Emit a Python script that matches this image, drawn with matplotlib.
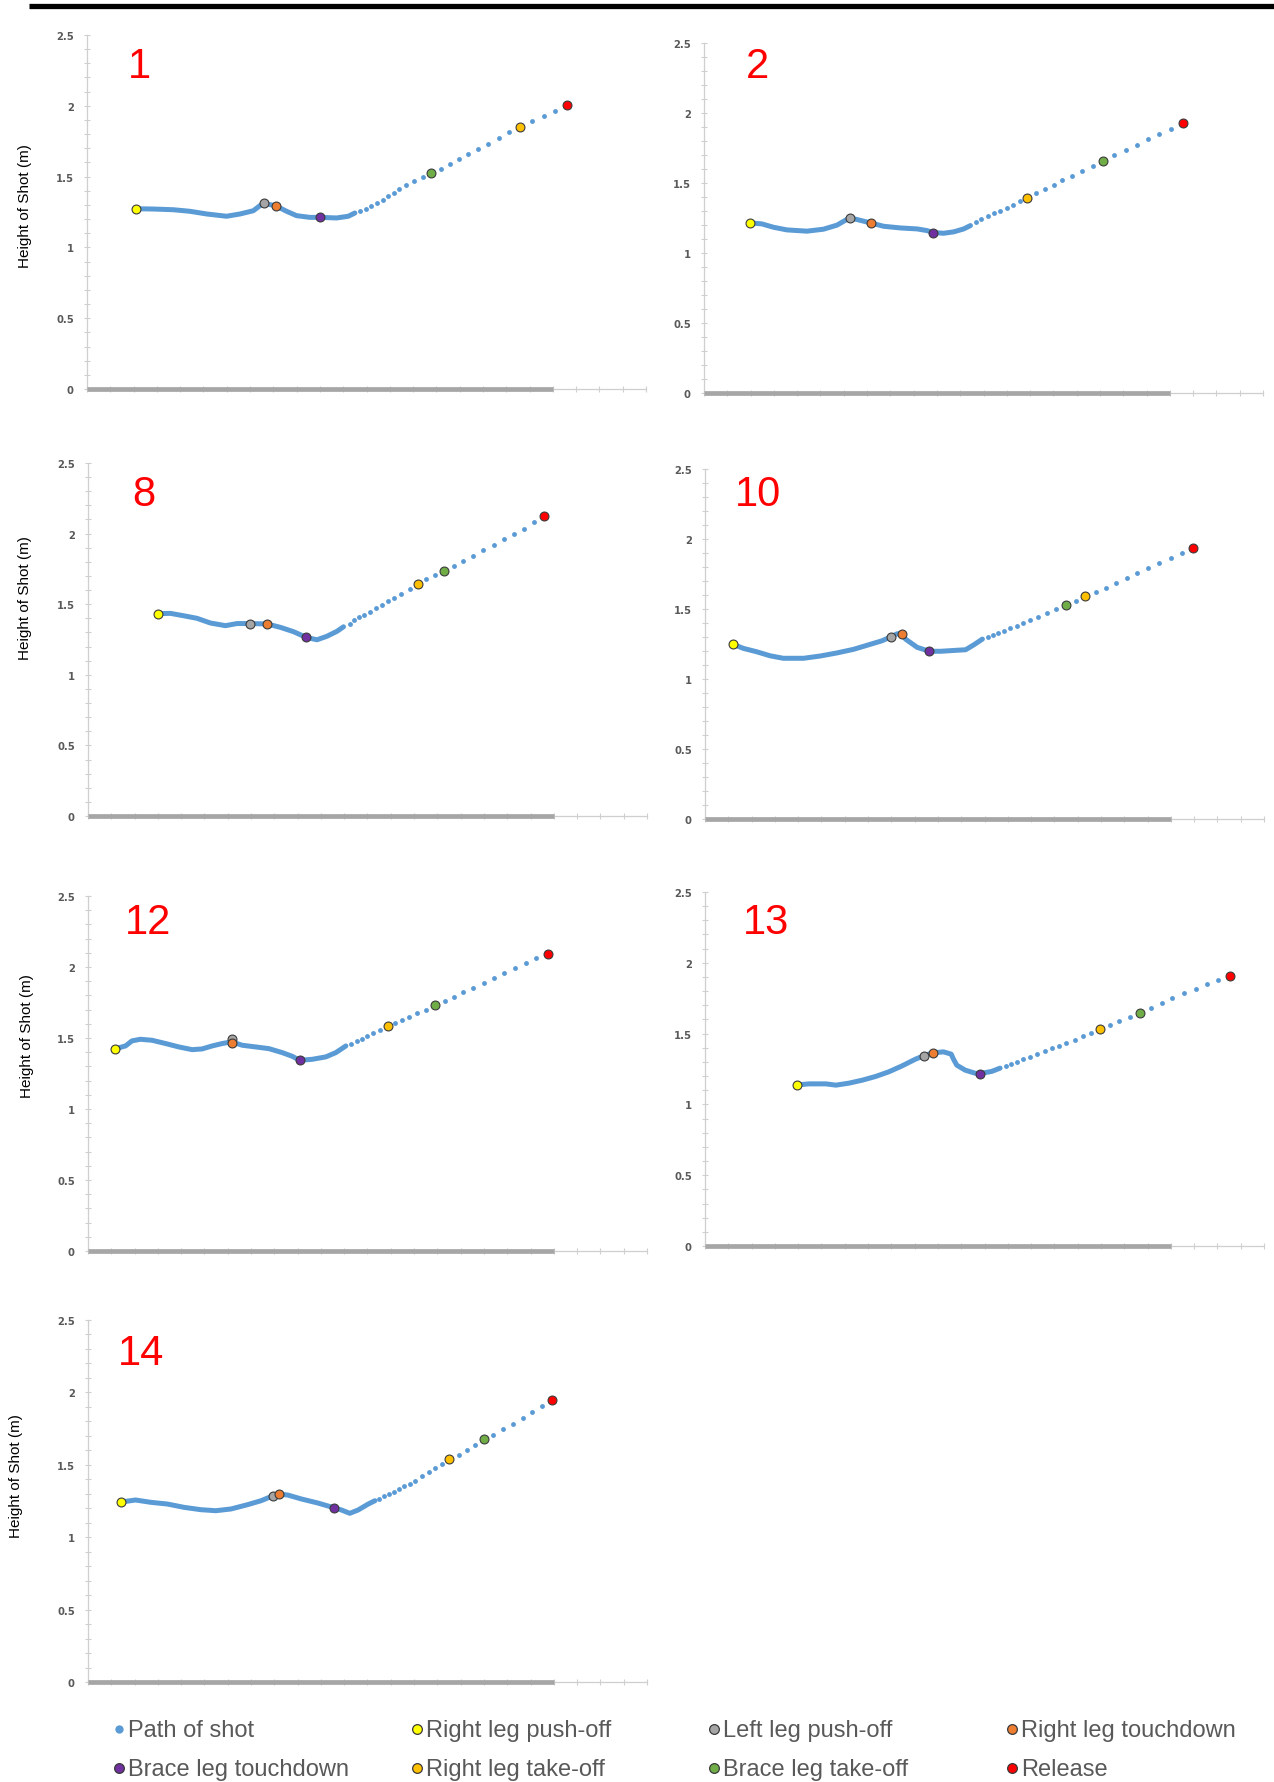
import matplotlib
matplotlib.use("Agg")
import matplotlib.pyplot as plt
from matplotlib.ticker import MultipleLocator

# event order: right push-off, left push-off, right touchdown,
# brace touchdown, right take-off, brace take-off, release
event_names = ["Right leg push-off", "Left leg push-off", "Right leg touchdown",
               "Brace leg touchdown", "Right leg take-off", "Brace leg take-off", "Release"]
event_colors = ["#ffff00", "#a5a5a5", "#ed7d31", "#7030a0", "#ffc000", "#70ad47", "#ff0000"]

y_ticks = [0, 0.5, 1, 1.5, 2, 2.5]
y_tick_labels = ["0", "0.5", "1", "1.5", "2", "2.5"]

# ---- trial 1
t1_path_x = [2.10, 2.85, 3.71, 4.42, 5.14, 5.99, 6.57, 7.14, 7.42, 7.60, 8.10, 8.57, 9.00, 9.57, 10.00, 10.72, 11.22, 11.50]
t1_path_y = [1.273, 1.271, 1.266, 1.255, 1.236, 1.220, 1.236, 1.259, 1.294, 1.311, 1.294, 1.255, 1.224, 1.212, 1.212, 1.208, 1.220, 1.243]
t1_dots_x = [11.72, 11.96, 12.19, 12.43, 12.69, 12.93, 13.18, 13.41, 13.69, 14.06, 14.41, 14.79, 15.18, 15.58, 15.97, 16.37, 16.77, 17.21, 17.67, 18.13, 18.61, 19.11, 19.60, 20.10, 20.60]
t1_dots_y = [1.255, 1.271, 1.290, 1.314, 1.337, 1.361, 1.386, 1.412, 1.438, 1.467, 1.495, 1.523, 1.556, 1.591, 1.626, 1.660, 1.697, 1.730, 1.773, 1.813, 1.853, 1.890, 1.926, 1.966, 2.006]
t1_event_x = [2.10, 7.60, 8.10, 10.00, 18.61, 14.79, 20.60]
t1_event_y = [1.273, 1.311, 1.294, 1.212, 1.853, 1.523, 2.006]

# ---- trial 2
t2_path_x = [1.98, 2.48, 2.98, 3.56, 4.42, 5.13, 5.71, 6.25, 6.57, 7.15, 7.71, 8.43, 9.15, 9.58, 9.85, 10.29, 10.72, 11.15, 11.44]
t2_path_y = [1.215, 1.208, 1.184, 1.165, 1.156, 1.170, 1.199, 1.251, 1.239, 1.215, 1.191, 1.179, 1.172, 1.160, 1.146, 1.141, 1.151, 1.172, 1.196]
t2_dots_x = [11.66, 11.90, 12.19, 12.44, 12.70, 12.99, 13.28, 13.56, 13.88, 14.24, 14.64, 15.01, 15.38, 15.78, 16.23, 16.72, 17.15, 17.62, 18.11, 18.59, 19.05, 19.54, 20.03, 20.57]
t2_dots_y = [1.220, 1.242, 1.263, 1.284, 1.303, 1.325, 1.346, 1.370, 1.396, 1.427, 1.456, 1.485, 1.518, 1.551, 1.585, 1.623, 1.658, 1.699, 1.737, 1.775, 1.811, 1.849, 1.885, 1.928]
t2_event_x = [1.98, 6.25, 7.15, 9.85, 13.88, 17.15, 20.57]
t2_event_y = [1.215, 1.251, 1.215, 1.146, 1.396, 1.658, 1.928]

# ---- trial 8
t8_path_x = [2.99, 3.54, 4.11, 4.68, 5.25, 5.90, 6.40, 6.94, 7.70, 8.26, 8.83, 9.37, 9.83, 10.26, 10.69, 10.97]
t8_path_y = [1.433, 1.435, 1.418, 1.400, 1.367, 1.348, 1.363, 1.363, 1.360, 1.336, 1.305, 1.265, 1.248, 1.273, 1.308, 1.340]
t8_dots_x = [11.23, 11.43, 11.65, 11.86, 12.12, 12.38, 12.62, 12.86, 13.15, 13.45, 13.81, 14.17, 14.52, 14.90, 15.30, 15.73, 16.12, 16.53, 16.96, 17.41, 17.86, 18.30, 18.72, 19.16, 19.59]
t8_dots_y = [1.363, 1.386, 1.407, 1.426, 1.445, 1.470, 1.492, 1.521, 1.546, 1.574, 1.608, 1.643, 1.677, 1.707, 1.738, 1.771, 1.806, 1.844, 1.884, 1.920, 1.960, 1.996, 2.035, 2.081, 2.123]
t8_event_x = [2.99, 6.94, 7.70, 9.37, 14.17, 15.30, 19.59]
t8_event_y = [1.433, 1.363, 1.360, 1.265, 1.643, 1.738, 2.123]

# ---- trial 10
t10_path_x = [1.21, 1.64, 2.21, 2.79, 3.36, 4.23, 4.94, 5.66, 6.38, 7.10, 7.60, 7.99, 8.25, 8.44, 8.61, 9.11, 9.63, 10.12, 10.69, 11.19, 11.55, 11.91]
t10_path_y = [1.248, 1.219, 1.195, 1.166, 1.148, 1.148, 1.164, 1.186, 1.212, 1.248, 1.273, 1.302, 1.323, 1.323, 1.285, 1.226, 1.198, 1.198, 1.204, 1.209, 1.245, 1.285]
t10_dots_x = [12.13, 12.36, 12.60, 12.85, 13.10, 13.39, 13.66, 13.97, 14.31, 14.67, 15.06, 15.49, 15.91, 16.32, 16.78, 17.23, 17.66, 18.10, 18.55, 19.03, 19.51, 20.00, 20.49, 20.95]
t10_dots_y = [1.300, 1.314, 1.328, 1.345, 1.362, 1.378, 1.400, 1.421, 1.443, 1.469, 1.498, 1.528, 1.559, 1.590, 1.623, 1.652, 1.683, 1.721, 1.757, 1.794, 1.830, 1.866, 1.901, 1.937]
t10_event_x = [1.21, 7.99, 8.44, 9.63, 16.32, 15.49, 20.95]
t10_event_y = [1.248, 1.302, 1.323, 1.198, 1.590, 1.528, 1.937]

# ---- trial 12
t12_path_x = [1.18, 1.61, 1.89, 2.25, 2.75, 3.33, 3.90, 4.47, 4.90, 5.33, 5.76, 6.17, 6.62, 7.20, 7.77, 8.34, 8.77, 9.09, 9.63, 10.21, 10.64, 11.07]
t12_path_y = [1.425, 1.444, 1.480, 1.491, 1.484, 1.461, 1.437, 1.418, 1.423, 1.444, 1.461, 1.473, 1.449, 1.437, 1.425, 1.397, 1.371, 1.343, 1.350, 1.367, 1.397, 1.444]
t12_dots_x = [11.28, 11.53, 11.75, 12.00, 12.24, 12.53, 12.87, 13.17, 13.47, 13.79, 14.12, 14.51, 14.89, 15.31, 15.70, 16.11, 16.54, 16.99, 17.42, 17.86, 18.32, 18.79, 19.23, 19.74]
t12_dots_y = [1.461, 1.480, 1.496, 1.515, 1.536, 1.554, 1.585, 1.606, 1.627, 1.649, 1.677, 1.700, 1.730, 1.758, 1.789, 1.822, 1.853, 1.890, 1.925, 1.956, 1.991, 2.026, 2.061, 2.094]
t12_event_x = [1.18, 6.17, 6.17, 9.09, 12.87, 14.89, 19.74]
t12_event_y = [1.425, 1.491, 1.463, 1.343, 1.585, 1.730, 2.094]

# ---- trial 13
t13_path_x = [3.97, 4.47, 5.19, 5.62, 6.18, 6.75, 7.32, 7.89, 8.46, 9.03, 9.39, 9.77, 10.24, 10.57, 10.67, 10.81, 11.17, 11.60, 11.82, 12.31, 12.67]
t13_path_y = [1.138, 1.145, 1.145, 1.136, 1.150, 1.171, 1.197, 1.230, 1.272, 1.319, 1.343, 1.364, 1.371, 1.355, 1.319, 1.277, 1.242, 1.220, 1.218, 1.233, 1.256]
t13_dots_x = [12.92, 13.14, 13.38, 13.66, 13.97, 14.27, 14.59, 14.90, 15.20, 15.51, 15.87, 16.23, 16.58, 16.97, 17.37, 17.79, 18.25, 18.68, 19.15, 19.62, 20.07, 20.57, 21.07, 21.57, 22.04, 22.52]
t13_dots_y = [1.272, 1.286, 1.300, 1.319, 1.338, 1.357, 1.378, 1.395, 1.411, 1.435, 1.456, 1.480, 1.505, 1.531, 1.560, 1.588, 1.616, 1.647, 1.678, 1.713, 1.748, 1.784, 1.814, 1.849, 1.878, 1.908]
t13_event_x = [3.97, 9.39, 9.77, 11.82, 16.97, 18.68, 22.52]
t13_event_y = [1.138, 1.343, 1.364, 1.218, 1.531, 1.647, 1.908]

# ---- trial 14
t14_path_x = [1.43, 2.04, 2.69, 3.41, 4.13, 4.84, 5.49, 6.14, 6.86, 7.43, 7.96, 8.19, 8.58, 9.16, 9.87, 10.55, 10.88, 11.24, 11.60, 12.03, 12.32]
t14_path_y = [1.243, 1.257, 1.241, 1.229, 1.206, 1.190, 1.183, 1.195, 1.225, 1.252, 1.287, 1.298, 1.291, 1.264, 1.236, 1.204, 1.188, 1.165, 1.188, 1.229, 1.252]
t14_dots_x = [12.50, 12.72, 12.92, 13.13, 13.37, 13.58, 13.81, 14.06, 14.34, 14.62, 14.90, 15.19, 15.49, 15.92, 16.27, 16.63, 16.99, 17.38, 17.81, 18.24, 18.67, 19.08, 19.51, 19.93]
t14_dots_y = [1.266, 1.282, 1.296, 1.312, 1.330, 1.351, 1.369, 1.390, 1.422, 1.450, 1.475, 1.505, 1.537, 1.569, 1.601, 1.634, 1.679, 1.707, 1.746, 1.785, 1.824, 1.863, 1.904, 1.950]
t14_event_x = [1.43, 7.96, 8.19, 10.55, 15.49, 16.99, 19.93]
t14_event_y = [1.243, 1.287, 1.298, 1.204, 1.537, 1.679, 1.950]

trials = {
    "1": (t1_path_x, t1_path_y, t1_dots_x, t1_dots_y, t1_event_x, t1_event_y),
    "2": (t2_path_x, t2_path_y, t2_dots_x, t2_dots_y, t2_event_x, t2_event_y),
    "8": (t8_path_x, t8_path_y, t8_dots_x, t8_dots_y, t8_event_x, t8_event_y),
    "10": (t10_path_x, t10_path_y, t10_dots_x, t10_dots_y, t10_event_x, t10_event_y),
    "12": (t12_path_x, t12_path_y, t12_dots_x, t12_dots_y, t12_event_x, t12_event_y),
    "13": (t13_path_x, t13_path_y, t13_dots_x, t13_dots_y, t13_event_x, t13_event_y),
    "14": (t14_path_x, t14_path_y, t14_dots_x, t14_dots_y, t14_event_x, t14_event_y),
}

# layout in pixels: axes left, top (y=2.5), bottom (y=0), number label, y-label
W, H = 1274, 1783
AX_W = 559
layout = {
    "1": (87, 36, 390, (139, 67), (25, 206)),
    "2": (704, 44, 394, (758, 67), None),
    "8": (88, 464, 817, (144, 495), (25, 598)),
    "10": (705, 470, 820, (758, 495), None),
    "12": (88, 897, 1252, (148, 923), (27, 1036)),
    "13": (705, 893, 1247, (766, 923), None),
    "14": (88, 1321, 1683, (141, 1354), (16, 1476)),
}

BLUE = "#5b9bd5"
AXIS_GREY = "#cfcfcf"
TEXT_GREY = "#595959"
EDGE = "#3a3a3a"

plt.rcParams["font.family"] = ["Liberation Sans", "DejaVu Sans"]

fig = plt.figure(figsize=(W / 100, H / 100), dpi=100)

# overlay in pixel coordinates for the loose text and legend
ov = fig.add_axes([0, 0, 1, 1], zorder=5)
ov.set_xlim(0, W)
ov.set_ylim(H, 0)
ov.axis("off")

ov.plot([29, W], [6.5, 6.5], color="black", lw=3.8, solid_capstyle="butt")

for name, (px, py, dx, dy, ex, ey) in trials.items():
    left, top, bottom, num_pos, ylab_pos = layout[name]
    ax = fig.add_axes([left / W, 1 - bottom / H, AX_W / W, (bottom - top) / H])
    ax.set_xlim(0, 24)
    ax.set_ylim(0, 2.5)
    for side in ["top", "right"]:
        ax.spines[side].set_visible(False)
    for side in ["left", "bottom"]:
        ax.spines[side].set_color(AXIS_GREY)
        ax.spines[side].set_linewidth(0.9)
    ax.set_xticks(range(0, 25))
    ax.set_xticklabels([])
    ax.set_yticks(y_ticks)
    ax.set_yticklabels(y_tick_labels, family="DejaVu Sans", fontsize=7.2,
                       fontweight="bold", color=TEXT_GREY)
    ax.yaxis.set_minor_locator(MultipleLocator(0.1))
    ax.tick_params(axis="both", which="both", direction="inout", length=5,
                   width=0.8, color=AXIS_GREY)
    ax.tick_params(axis="y", which="major", pad=7)

    # heavy grey base bar along y = 0
    ax.plot([0, 20], [0, 0], color="#a6a6a6", lw=3.4, solid_capstyle="butt",
            clip_on=False, zorder=3)

    ax.plot(px, py, color=BLUE, lw=3.6, solid_capstyle="round",
            solid_joinstyle="round", zorder=4)
    ax.plot(dx, dy, "o", color=BLUE, ms=3.5, mew=0, zorder=4)
    for i in range(len(ex)):
        ax.plot(ex[i], ey[i], "o", color=event_colors[i], ms=6.4,
                mec=EDGE, mew=0.8, zorder=6 + i)

    ov.text(num_pos[0], num_pos[1], name, color="#ff0000", fontsize=30,
            ha="center", va="center")
    if ylab_pos is not None:
        ov.text(ylab_pos[0], ylab_pos[1], "Height of Shot (m)", rotation=90,
                fontsize=11, ha="center", va="center", color="black")

# legend: two rows of four entries
legend_names = ["Path of shot"] + event_names
legend_colors = [BLUE] + event_colors
col_x = [119, 417, 714, 1012]
row_y = [1730, 1769]
for k in range(len(legend_names)):
    cx = col_x[k % 4]
    cy = row_y[k // 4]
    if k == 0:
        ov.plot(cx, cy, "o", color=BLUE, ms=6, mew=0)
    else:
        ov.plot(cx, cy, "o", color=legend_colors[k], ms=7, mec=EDGE, mew=0.9)
    ov.text(cx + 9, cy + 1, legend_names[k], fontsize=17, color=TEXT_GREY,
            ha="left", va="center")

fig.savefig("out.png", dpi=100)
